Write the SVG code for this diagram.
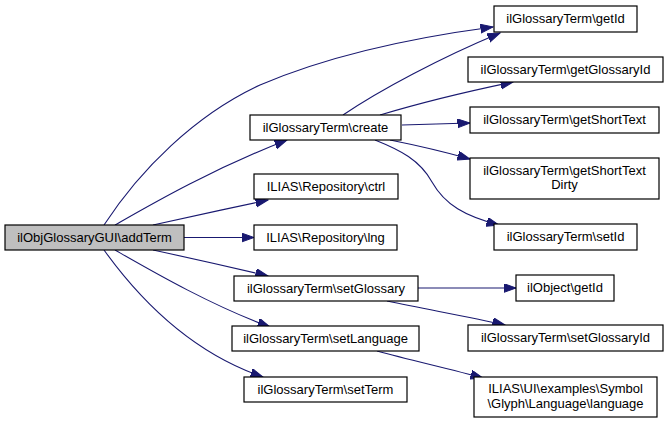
<svg xmlns="http://www.w3.org/2000/svg" width="668" height="423" viewBox="0 0 668 423">
<style>
.n rect{fill:#ffffff;stroke:#000000;stroke-width:1.2}
#addTerm rect{fill:#bfbfbf}
text{font-family:"Liberation Sans",Arial,sans-serif;font-size:13px;fill:#000000;text-anchor:middle}
.e path{fill:none;stroke:#191970;stroke-width:1.1;marker-end:url(#ah)}
</style>
<defs>
<marker id="ah" markerUnits="userSpaceOnUse" markerWidth="14" markerHeight="10" refX="12.5" refY="4.5" orient="auto">
<path d="M0,0 L12.5,4.5 L0,9 Z" fill="#191970" stroke="#191970" stroke-width="1"/>
</marker>
</defs>
<rect width="668" height="423" fill="#ffffff"/>
<g class="e" id="connectors">
<path d="M104,225 C140,170 195,115 260,85 C330,55 410,38 493,27"/>
<path d="M343,115 C380,90 440,58 500,33"/>
<path d="M380,115 C420,103 460,93 513,82"/>
<path d="M402,125 L470,123"/>
<path d="M390,140 C420,146 445,152 470,159"/>
<path d="M375,140 C400,150 420,160 432,182 C445,205 465,216 499,225"/>
<path d="M115,225 C150,205 210,170 287,140"/>
<path d="M153,225 C190,217 230,208 268,200"/>
<path d="M184,237.5 L254,237.5"/>
<path d="M153,250 C190,258 230,267 268,276"/>
<path d="M115,250 C150,270 210,305 270,327"/>
<path d="M104,250 C140,300 190,352 263,377"/>
<path d="M418,288 L516,288"/>
<path d="M387,301 C430,310 470,317 505,325"/>
<path d="M377,351 C410,360 450,369 483,378"/>
</g>
<g class="n" id="addTerm"><rect x="5" y="225" width="179" height="25"/><text x="94.5" y="241.5">ilObjGlossaryGUI\addTerm</text></g>
<g class="n" id="create"><rect x="250" y="115" width="151" height="25"/><text x="325.5" y="131.5">ilGlossaryTerm\create</text></g>
<g class="n" id="ctrl"><rect x="254" y="174" width="144" height="25"/><text x="326" y="190.5">ILIAS\Repository\ctrl</text></g>
<g class="n" id="lng"><rect x="254" y="225" width="143" height="25"/><text x="325.5" y="241.5">ILIAS\Repository\lng</text></g>
<g class="n" id="setGlossary"><rect x="234" y="276" width="184" height="25"/><text x="326" y="292.5">ilGlossaryTerm\setGlossary</text></g>
<g class="n" id="setLanguage"><rect x="232" y="326" width="187" height="25"/><text x="325.5" y="342.5">ilGlossaryTerm\setLanguage</text></g>
<g class="n" id="setTerm"><rect x="244" y="377" width="163" height="25"/><text x="325.5" y="393.5">ilGlossaryTerm\setTerm</text></g>
<g class="n" id="getId"><rect x="494" y="6" width="143" height="26"/><text x="565.5" y="23">ilGlossaryTerm\getId</text></g>
<g class="n" id="getGlossaryId"><rect x="468" y="57" width="195" height="25"/><text x="565.5" y="73.5">ilGlossaryTerm\getGlossaryId</text></g>
<g class="n" id="getShortText"><rect x="470" y="107" width="189" height="26"/><text x="564.5" y="124">ilGlossaryTerm\getShortText</text></g>
<g class="n" id="getShortTextDirty"><rect x="470" y="158" width="189" height="41"/><text x="564.5" y="175">ilGlossaryTerm\getShortText</text><text x="564.5" y="189">Dirty</text></g>
<g class="n" id="setId"><rect x="494" y="224" width="143" height="26"/><text x="565.5" y="241">ilGlossaryTerm\setId</text></g>
<g class="n" id="objGetId"><rect x="516" y="275" width="98" height="26"/><text x="565" y="292">ilObject\getId</text></g>
<g class="n" id="setGlossaryId"><rect x="468" y="325" width="195" height="26"/><text x="565.5" y="342">ilGlossaryTerm\setGlossaryId</text></g>
<g class="n" id="language"><rect x="474" y="377" width="183" height="40"/><text x="565.5" y="393">ILIAS\UI\examples\Symbol</text><text x="565.5" y="408">\Glyph\Language\language</text></g>
</svg>
